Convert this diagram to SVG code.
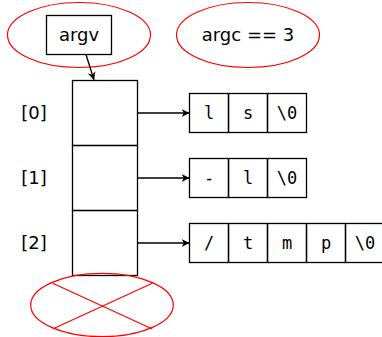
<svg xmlns="http://www.w3.org/2000/svg" width="382" height="337" viewBox="0 0 382 337">
  <style>
    .box { fill: #fff; stroke: #000; stroke-width: 1.3; }
    .cell { fill: none; stroke: #000; stroke-width: 1.3; }
    .ring { fill: none; stroke: #f00; stroke-width: 1.2; }
    .sans { font-family: "DejaVu Sans", sans-serif; font-size: 18px; fill: #000; text-anchor: middle; }
    .mono { font-family: "DejaVu Sans Mono", monospace; font-size: 17px; fill: #000; text-anchor: middle; }
    .link { stroke: #000; stroke-width: 1.3; fill: none; marker-end: url(#head); }
  </style>
  <defs>
    <marker id="head" viewBox="0 0 10 10" refX="10" refY="5" markerWidth="8" markerHeight="8" markerUnits="userSpaceOnUse" orient="auto">
      <path d="M0,0 L10,5 L0,10 L3,5 Z" fill="#000"/>
    </marker>
  </defs>

  <rect width="382" height="337" fill="#fff"/>

  <!-- argv variable -->
  <g id="argv">
    <ellipse class="ring" cx="79" cy="35" rx="71.5" ry="32.5"/>
    <rect class="box" x="46.5" y="15.5" width="65" height="39"/>
    <text class="sans" x="79" y="41">argv</text>
  </g>

  <!-- argc value -->
  <g id="argc">
    <ellipse class="ring" cx="248" cy="35" rx="71.5" ry="32.5"/>
    <text class="sans" x="248" y="41">argc == 3</text>
  </g>

  <!-- pointer array -->
  <g id="array">
    <rect class="cell" x="72.5" y="80.5" width="65" height="65"/>
    <rect class="cell" x="72.5" y="145.5" width="65" height="65"/>
    <rect class="cell" x="72.5" y="210.5" width="65" height="65"/>
    <text class="sans" x="34" y="119">[0]</text>
    <text class="sans" x="34" y="184">[1]</text>
    <text class="sans" x="34" y="249">[2]</text>
  </g>

  <!-- terminating NULL slot, crossed out -->
  <g id="null-slot">
    <ellipse class="ring" cx="102" cy="305" rx="71.3" ry="31.7"/>
    <line class="ring" x1="52.7" y1="283.3" x2="152.3" y2="329"/>
    <line class="ring" x1="52.7" y1="329" x2="152.3" y2="283.3"/>
  </g>

  <!-- "ls" -->
  <g id="str0">
    <rect class="cell" x="189.5" y="93.5" width="39" height="39"/>
    <rect class="cell" x="228.5" y="93.5" width="39" height="39"/>
    <rect class="cell" x="267.5" y="93.5" width="39" height="39"/>
    <text class="mono" x="209" y="119">l</text>
    <text class="mono" x="248" y="119">s</text>
    <text class="mono" x="287" y="119">\0</text>
  </g>

  <!-- "-l" -->
  <g id="str1">
    <rect class="cell" x="189.5" y="158.5" width="39" height="39"/>
    <rect class="cell" x="228.5" y="158.5" width="39" height="39"/>
    <rect class="cell" x="267.5" y="158.5" width="39" height="39"/>
    <text class="mono" x="209" y="184">-</text>
    <text class="mono" x="248" y="184">l</text>
    <text class="mono" x="287" y="184">\0</text>
  </g>

  <!-- "/tmp" -->
  <g id="str2">
    <rect class="cell" x="189.5" y="223.5" width="39" height="39"/>
    <rect class="cell" x="228.5" y="223.5" width="39" height="39"/>
    <rect class="cell" x="267.5" y="223.5" width="39" height="39"/>
    <rect class="cell" x="306.5" y="223.5" width="39" height="39"/>
    <rect class="cell" x="345.5" y="223.5" width="39" height="39"/>
    <text class="mono" x="209" y="249">/</text>
    <text class="mono" x="248" y="249">t</text>
    <text class="mono" x="287" y="249">m</text>
    <text class="mono" x="326" y="249">p</text>
    <text class="mono" x="365" y="249">\0</text>
  </g>

  <!-- pointers -->
  <g id="connectors">
    <line class="link" x1="86" y1="54.5" x2="94" y2="80"/>
    <line class="link" x1="137.5" y1="113" x2="189.5" y2="113"/>
    <line class="link" x1="137.5" y1="178" x2="189.5" y2="178"/>
    <line class="link" x1="137.5" y1="243" x2="189.5" y2="243"/>
  </g>
</svg>
